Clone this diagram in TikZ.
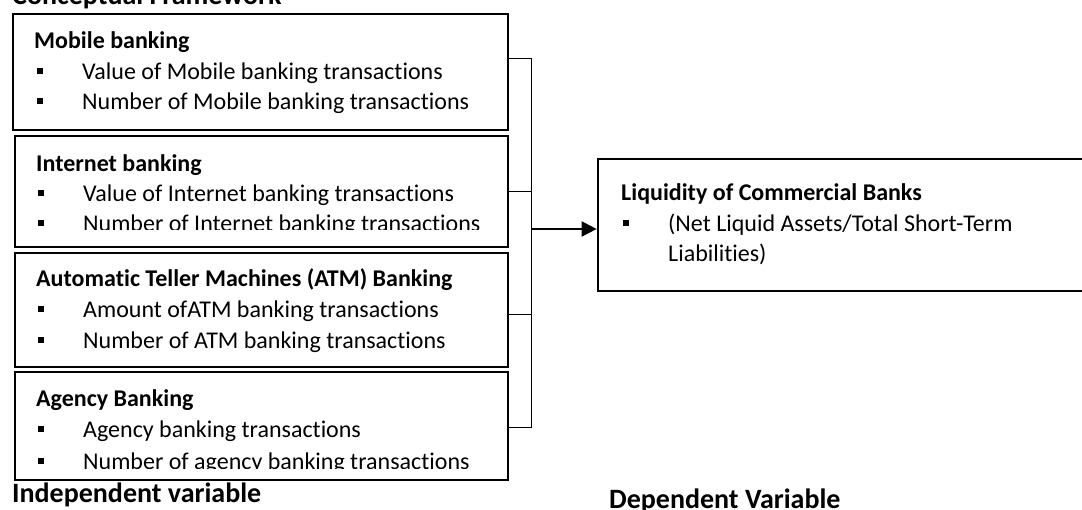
\documentclass[tikz,border=0pt]{standalone}
\usepackage{fontspec}
\setmainfont{Carlito}[Ligatures=NoCommon]
\usetikzlibrary{arrows.meta}
\newcommand{\itm}{\makebox[45pt][l]{\rule[6pt]{6pt}{6pt}}}

\begin{document}
\begin{tikzpicture}[x=1pt,y=-1pt,
  box/.style={draw,line width=2.7pt,inner sep=0pt},
  txt/.style={anchor=base west,inner sep=0pt,font=\fontsize{24}{29}\selectfont},
  head/.style={anchor=base west,inner sep=0pt,font=\fontsize{24}{29}\selectfont\bfseries},
  big/.style={anchor=base west,inner sep=0pt,font=\fontsize{28}{34}\selectfont\bfseries}]
\clip (0,0) rectangle (1082,510);

\node[big] (title) at (12,5) {Conceptual Framework};

% independent variables
\node[box,minimum width=495pt,minimum height=116pt] (mobile) at (260.5,72) {};
\node[box,minimum width=493pt,minimum height=111pt] (internet) at (261.5,191.5) {};
\node[box,minimum width=493pt,minimum height=114pt] (atm) at (261.5,310) {};
\node[box,minimum width=493pt,minimum height=108pt] (agency) at (261.5,426) {};
% dependent variable
\node[box,minimum width=497pt,minimum height=132pt] (liquidity) at (846.5,225) {};

\node[head] (mobhead) at (34,49) {Mobile banking};
\node[txt] (mobval) at (37,80) {\itm Value of Mobile banking transactions};
\node[txt] (mobnum) at (37,110) {\itm Number of Mobile banking transactions};

\node[head] (inthead) at (36,172) {Internet banking};
\node[txt] (intval) at (38,202) {\itm Value of Internet banking transactions};
\begin{scope}
\clip (15,136) rectangle (508,230);
\node[txt] (intnum) at (38,232) {\itm Number of Internet banking transactions};
\end{scope}

\node[head] (atmhead) at (36,287) {Automatic Teller Machines (ATM) Banking};
\node[txt] (atmval) at (38,318) {\itm Amount ofATM banking transactions};
\node[txt] (atmnum) at (38,349) {\itm Number of ATM banking transactions};

\node[head] (agthead) at (36,407) {Agency Banking};
\node[txt] (agtval) at (38,438) {\itm Agency banking transactions};
\begin{scope}
\clip (15,372) rectangle (508,468);
\node[txt] (agtnum) at (38,470) {\itm Number of agency banking transactions};
\end{scope}

\node[head] (liqhead) at (621,201) {Liquidity of Commercial Banks};
\node[txt] (liqval) at (623,232) {\itm (Net Liquid Assets/Total Short-Term};
\node[txt] (liqval2) at (668,262) {Liabilities)};

% bracket and arrow
\coordinate (top) at (531,59);
\coordinate (b2) at (531,192);
\coordinate (b3) at (531,315);
\coordinate (bot) at (531,428);
\coordinate (join) at (531,229);
\draw[line width=1pt] (mobile.east |- top) -- (top) -- (bot) -- (agency.east |- bot);
\draw[line width=1pt] (internet.east |- b2) -- (b2);
\draw[line width=1pt] (atm.east |- b3) -- (b3);
\draw[line width=2pt,-{Triangle[length=15pt,width=15pt]}] (join) -- (liquidity.west |- join);

\node[big] (indep) at (12,502) {Independent variable};
\node[big] (dep) at (609,508) {Dependent Variable};
\end{tikzpicture}
\end{document}
